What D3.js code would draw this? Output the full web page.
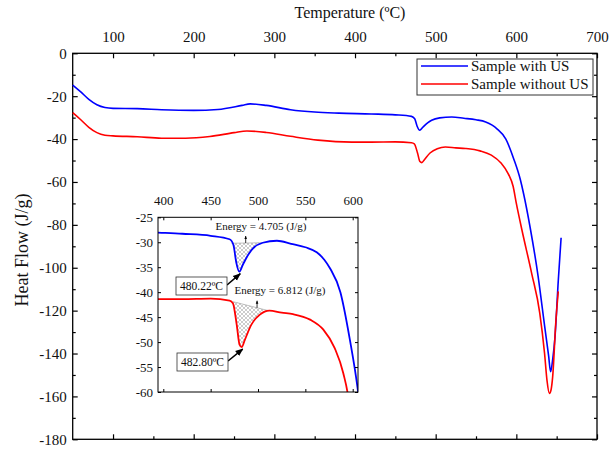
<!DOCTYPE html>
<html><head><meta charset="utf-8">
<script src="https://cdn.jsdelivr.net/npm/d3@7"></script>
<style>body{margin:0;background:#fff}svg{display:block;font-family:"Liberation Serif","Times New Roman",serif}</style>
</head><body><svg id="c" width="611" height="450"></svg>
<script>
// ---- data ----
const tempWithUS = [50,60,70,80,90,100,130,160,200,230,260,270,290,320,350,380,420,450,470,474,477,480.22,484,490,495,505,520,535,550,562,570,576,587,597,605,609,617,627,635,640,642.5,645,648,652,655.5];
const flowWithUS = [-14.8,-18,-21.5,-24,-25.3,-25.7,-25.8,-26.3,-26.6,-26.2,-24.3,-23.6,-24.3,-26.3,-27.4,-27.9,-28.3,-28.7,-29.4,-30.5,-34,-35.9,-34.5,-32.4,-31.2,-30.1,-29.7,-30.3,-31,-32,-33.5,-35.2,-40,-49.5,-59,-65.5,-81,-104,-127,-141,-148.5,-143,-132,-106,-86];
const tempWithoutUS = [50,60,70,80,90,100,130,160,190,220,250,266,290,320,354,396,420,450,470,473.5,477.5,480.5,482.8,486,493,502,512,525,537,555,569,581,590,596,600,607,619,629,635,638,641,643,645,649,652];
const flowWithoutUS = [-27.7,-31,-34.5,-37,-38.2,-38.5,-38.9,-39.6,-39.6,-38.8,-37,-36.2,-36.9,-38.7,-40.5,-41.4,-41.4,-41.3,-41.7,-42.2,-46.5,-50.5,-51,-49.6,-46.5,-44.5,-43.7,-44.1,-44.4,-45.5,-47.5,-51.2,-56.2,-62,-70,-82.5,-102.6,-121,-140,-152.5,-158.6,-157,-151,-125,-111];
const seriesNames = ["Sample with US","Sample without US"];
const seriesColors = ["#0000ff","#ff0000"];
const xTicks = [100,200,300,400,500,600,700];
const xMinor = [150,250,350,450,550,650];
const yTicks = [0,-20,-40,-60,-80,-100,-120,-140,-160,-180];
const yMinor = [-10,-30,-50,-70,-90,-110,-130,-150,-170];
const insetXTicks = [400,450,500,550,600];
const insetYTicks = [-25,-30,-35,-40,-45,-50,-55,-60];
const peakTemps = [480.22,482.80];
const peakLabels = ["480.22ºC","482.80ºC"];
const energyLabels = ["Energy = 4.705 (J/g)","Energy = 6.812 (J/g)"];
const energyArrowTemps = [487,499];
const baseStartT = [472,473.5], baseStartV = [-30.2,-41.9];
const baseEndT = [504,511], baseEndV = [-30.1,-43.7];

const series = [
  {name:seriesNames[0], color:seriesColors[0], pts:tempWithUS.map((t,i)=>[t,flowWithUS[i]])},
  {name:seriesNames[1], color:seriesColors[1], pts:tempWithoutUS.map((t,i)=>[t,flowWithoutUS[i]])}
];

const svg = d3.select("#c");
const defs = svg.append("defs");
const txt = "#111";

// ---- main scales ----
const x = d3.scaleLinear([50,700],[72.7,597]);
const y = d3.scaleLinear([0,-180],[53.3,439.3]);

function styleAxis(g){ g.select(".domain").remove(); g.selectAll("line").attr("stroke","#000").attr("stroke-width",1.2); g.selectAll("text").attr("fill",txt).attr("font-family","Liberation Serif"); }

svg.append("g").attr("transform",`translate(0,${y(0)})`).call(d3.axisTop(x).tickValues(xTicks).tickSize(-5).tickPadding(11).tickFormat(d3.format("d"))).attr("font-size",15).call(styleAxis);
svg.append("g").attr("transform",`translate(0,${y(0)})`).call(d3.axisTop(x).tickValues(xMinor).tickSize(-3).tickFormat("")).call(styleAxis);
svg.append("g").attr("transform",`translate(0,${y(-180)})`).call(d3.axisBottom(x).tickValues(xTicks).tickSize(-5).tickFormat("")).call(styleAxis);
svg.append("g").attr("transform",`translate(0,${y(-180)})`).call(d3.axisBottom(x).tickValues(xMinor).tickSize(-3).tickFormat("")).call(styleAxis);
svg.append("g").attr("transform",`translate(${x(50)},0)`).call(d3.axisLeft(y).tickValues(yTicks).tickSize(-5).tickPadding(6).tickFormat(d=>String(d))).attr("font-size",15).call(styleAxis);
svg.append("g").attr("transform",`translate(${x(50)},0)`).call(d3.axisLeft(y).tickValues(yMinor).tickSize(-3).tickFormat("")).call(styleAxis);
svg.append("g").attr("transform",`translate(${x(700)},0)`).call(d3.axisRight(y).tickValues(yTicks).tickSize(-5).tickFormat("")).call(styleAxis);
svg.append("g").attr("transform",`translate(${x(700)},0)`).call(d3.axisRight(y).tickValues(yMinor).tickSize(-3).tickFormat("")).call(styleAxis);
svg.append("rect").attr("x",x(50)).attr("y",y(0)).attr("width",x(700)-x(50)).attr("height",y(-180)-y(0)).attr("fill","none").attr("stroke","#000").attr("stroke-width",1.3);

svg.append("text").attr("x",350).attr("y",18).attr("text-anchor","middle").attr("font-size",16).attr("fill",txt).text("Temperature (ºC)");
svg.append("text").attr("transform","translate(28,250) rotate(-90)").attr("text-anchor","middle").attr("font-size",18).attr("fill",txt).text("Heat Flow (J/g)");

const line = d3.line().x(d=>x(d[0])).y(d=>y(d[1])).curve(d3.curveMonotoneX);
series.forEach(s=>svg.append("path").attr("d",line(s.pts)).attr("fill","none").attr("stroke",s.color).attr("stroke-width",1.6));

// legend
const lg = svg.append("g");
lg.append("rect").attr("x",417).attr("y",59).attr("width",176).attr("height",36).attr("fill","#fff").attr("stroke","#333").attr("stroke-width",1);
series.forEach((s,i)=>{
  const yy = 66 + i*18;
  lg.append("line").attr("x1",421).attr("x2",468).attr("y1",yy).attr("y2",yy).attr("stroke",s.color).attr("stroke-width",1.6);
  lg.append("text").attr("x",471).attr("y",yy+5).attr("font-size",15).attr("fill",txt).text(s.name);
});

// ---- inset ----
const ix = d3.scaleLinear([394.4,605.6],[158,358]);
const iy = d3.scaleLinear([-25,-60],[217.3,392]);
const ins = svg.append("g");
ins.append("rect").attr("x",158).attr("y",217.3).attr("width",200).attr("height",iy(-60)-iy(-25)).attr("fill","#fff");
defs.append("clipPath").attr("id","ic").append("rect").attr("x",158).attr("y",217.3).attr("width",200).attr("height",iy(-60)-iy(-25));
const pat = defs.append("pattern").attr("id","hatch").attr("patternUnits","userSpaceOnUse").attr("width",4).attr("height",4);
pat.append("path").attr("d","M0,0L4,4M4,0L0,4").attr("stroke","#aaa").attr("stroke-width",0.6);

const plot = ins.append("g").attr("clip-path","url(#ic)");
function interp(pts,t){ for(let i=1;i<pts.length;i++){ if(pts[i][0]>=t){ const a=pts[i-1],b=pts[i]; return a[1]+(b[1]-a[1])*(t-a[0])/(b[0]-a[0]); } } return pts[pts.length-1][1]; }
series.forEach((s,k)=>{
  const t0=baseStartT[k], t1=baseEndT[k], v0=baseStartV[k], v1=baseEndV[k];
  const base = t=> v0+(v1-v0)*(t-t0)/(t1-t0);
  const pts = [[t0,v0]].concat(s.pts.filter(p=>p[0]>t0&&p[0]<t1)).concat([[t1,v1]]);
  const area = d3.area().x(d=>ix(d[0])).y0(d=>iy(base(d[0]))).y1(d=>iy(d[1])).curve(d3.curveMonotoneX);
  plot.append("path").attr("d",area(pts)).attr("fill","url(#hatch)");
  plot.append("line").attr("x1",ix(t0)).attr("y1",iy(v0)).attr("x2",ix(t1)).attr("y2",iy(v1)).attr("stroke","#999").attr("stroke-width",0.6);
});
const iline = d3.line().x(d=>ix(d[0])).y(d=>iy(d[1])).curve(d3.curveMonotoneX);
series.forEach(s=>plot.append("path").attr("d",iline(s.pts)).attr("fill","none").attr("stroke",s.color).attr("stroke-width",1.8));

function styleIn(g){ g.select(".domain").remove(); g.selectAll("line").attr("stroke","#000"); g.selectAll("text").attr("fill",txt).attr("font-family","Liberation Serif"); }
ins.append("g").attr("transform",`translate(0,217.3)`).call(d3.axisTop(ix).tickValues(insetXTicks).tickSize(-3).tickPadding(12).tickFormat(d3.format("d"))).attr("font-size",13).call(styleIn);
ins.append("g").attr("transform",`translate(0,${iy(-60)})`).call(d3.axisBottom(ix).tickValues(insetXTicks).tickSize(-3).tickFormat("")).call(styleIn);
ins.append("g").attr("transform",`translate(158,0)`).call(d3.axisLeft(iy).tickValues(insetYTicks).tickSize(-3).tickPadding(5).tickFormat(d=>String(d))).attr("font-size",13).call(styleIn);
ins.append("g").attr("transform",`translate(358,0)`).call(d3.axisRight(iy).tickValues(insetYTicks).tickSize(-3).tickFormat("")).call(styleIn);
ins.append("rect").attr("x",158).attr("y",217.3).attr("width",200).attr("height",iy(-60)-iy(-25)).attr("fill","none").attr("stroke","#000").attr("stroke-width",1);

// markers
defs.append("marker").attr("id","ah").attr("viewBox","0 0 10 10").attr("refX",9).attr("refY",5).attr("markerWidth",5).attr("markerHeight",5).attr("orient","auto")
  .append("path").attr("d","M0,1L10,5L0,9Z").attr("fill","#000");
defs.append("marker").attr("id","ahs").attr("viewBox","0 0 10 10").attr("refX",9).attr("refY",5).attr("markerWidth",4).attr("markerHeight",5).attr("orient","auto")
  .append("path").attr("d","M0,1L10,5L0,9Z").attr("fill","#000");

// energy labels
const energyPos = [[261,230],[280,294]];
series.forEach((s,k)=>{
  const t = energyArrowTemps[k];
  const v0=baseStartV[k], v1=baseEndV[k], t0=baseStartT[k], t1=baseEndT[k];
  const bv = v0+(v1-v0)*(t-t0)/(t1-t0);
  ins.append("line").attr("x1",ix(t)).attr("y1",iy(bv)).attr("x2",ix(t)).attr("y2",iy(bv)-7).attr("stroke","#000").attr("stroke-width",0.8).attr("marker-end","url(#ahs)");
  ins.append("text").attr("x",energyPos[k][0]).attr("y",energyPos[k][1]).attr("text-anchor","middle").attr("font-size",11).attr("fill",txt).text(energyLabels[k]);
});

// peak callouts
const boxPos = [[176,277],[177,353]];
series.forEach((s,k)=>{
  const [bx,by] = boxPos[k];
  const px = ix(peakTemps[k]), py = iy(interp(s.pts,peakTemps[k]));
  ins.append("line").attr("x1",bx+51).attr("y1",by+8).attr("x2",px+1).attr("y2",py+2).attr("stroke","#000").attr("stroke-width",1.6).attr("marker-end","url(#ah)");
  ins.append("rect").attr("x",bx).attr("y",by).attr("width",51).attr("height",18).attr("fill","#fff").attr("stroke","#333").attr("stroke-width",0.8);
  ins.append("text").attr("x",bx+25.5).attr("y",by+13).attr("text-anchor","middle").attr("font-size",11.5).attr("fill",txt).text(peakLabels[k]);
});
</script></body></html>
